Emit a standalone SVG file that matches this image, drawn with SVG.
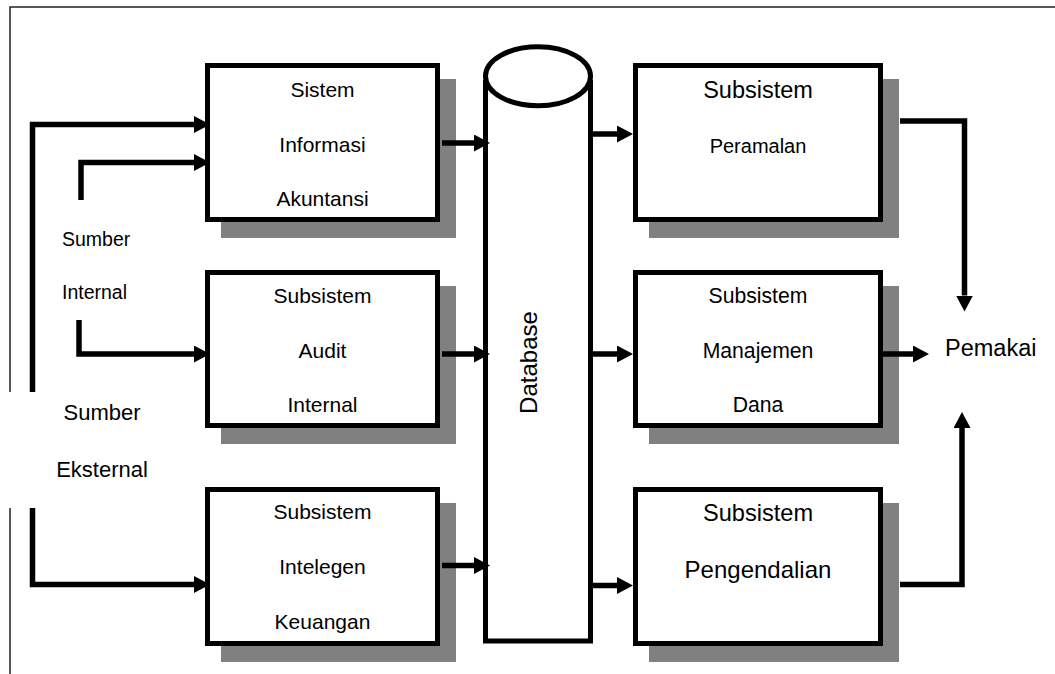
<svg xmlns="http://www.w3.org/2000/svg" width="1055" height="674" viewBox="0 0 1055 674">
<style>
.frame{fill:none;stroke:#222;stroke-width:1.5}
.shadow{fill:#808080;stroke:none}
.box{fill:#fff;stroke:#000;stroke-width:5}
.conn{fill:none;stroke:#000;stroke-width:5.5;stroke-linejoin:miter;stroke-linecap:butt}
text{font-family:"Liberation Sans",Arial,sans-serif;fill:#000}
.c{text-anchor:middle}
</style>
<defs>
<marker id="ah" viewBox="0 0 16 17" refX="0" refY="8.5" markerWidth="16" markerHeight="17" markerUnits="userSpaceOnUse" orient="auto">
<path d="M0,0 L16,8.5 L0,17 Z" fill="#000"/>
</marker>
</defs>
<rect width="1055" height="674" fill="#fff"/>
<g id="frame">
<path class="frame" d="M10,674 V508 M10,392 V7 H1055"/>
</g>
<g id="sia">
<rect class="shadow" x="221" y="79" width="235" height="159"/>
<rect class="box" x="207.5" y="65.5" width="230" height="154"/>
<text class="c" x="322.5" y="97" font-size="21">Sistem</text>
<text class="c" x="322.5" y="152" font-size="21">Informasi</text>
<text class="c" x="322.5" y="206" font-size="21">Akuntansi</text>
</g>
<g id="audit">
<rect class="shadow" x="221" y="286" width="235" height="158"/>
<rect class="box" x="207.5" y="272.5" width="230" height="153"/>
<text class="c" x="322.5" y="303" font-size="21">Subsistem</text>
<text class="c" x="322.5" y="358" font-size="21">Audit</text>
<text class="c" x="322.5" y="412" font-size="21">Internal</text>
</g>
<g id="intelegen">
<rect class="shadow" x="221" y="503" width="235" height="159"/>
<rect class="box" x="207.5" y="489.5" width="230" height="154"/>
<text class="c" x="322.5" y="519" font-size="21">Subsistem</text>
<text class="c" x="322.5" y="574" font-size="21">Intelegen</text>
<text class="c" x="322.5" y="629" font-size="21">Keuangan</text>
</g>
<g id="peramalan">
<rect class="shadow" x="649" y="79" width="250" height="159"/>
<rect class="box" x="635.5" y="65.5" width="245" height="154"/>
<text class="c" x="758" y="98" font-size="23.5">Subsistem</text>
<text class="c" x="758" y="153" font-size="20">Peramalan</text>
</g>
<g id="manajemen">
<rect class="shadow" x="649" y="286" width="250" height="158"/>
<rect class="box" x="635.5" y="272.5" width="245" height="153"/>
<text class="c" x="758" y="303" font-size="21.2">Subsistem</text>
<text class="c" x="758" y="358" font-size="21.2">Manajemen</text>
<text class="c" x="758" y="412" font-size="21.2">Dana</text>
</g>
<g id="pengendalian">
<rect class="shadow" x="649" y="503" width="250" height="159"/>
<rect class="box" x="635.5" y="489.5" width="245" height="154"/>
<text class="c" x="758" y="521" font-size="23.6">Subsistem</text>
<text class="c" x="758" y="578" font-size="24">Pengendalian</text>
</g>
<g id="database">
<path d="M485.5,80 V641 H590.5 V80" fill="#fff" stroke="#000" stroke-width="5"/>
<ellipse cx="538" cy="76.3" rx="52.5" ry="29.5" fill="#fff" stroke="#000" stroke-width="5"/>
<text class="c" x="0" y="0" font-size="24" transform="translate(537,362.5) rotate(-90)">Database</text>
</g>
<g id="sumber-internal">
<text x="62" y="246" font-size="19.5">Sumber</text>
<text x="62" y="299" font-size="19.5">Internal</text>
</g>
<g id="sumber-eksternal">
<text class="c" x="102" y="420" font-size="22">Sumber</text>
<text class="c" x="102" y="477" font-size="22">Eksternal</text>
</g>
<g id="pemakai">
<text x="945" y="356" font-size="23.5">Pemakai</text>
</g>
<g id="connectors">
<path class="conn" d="M32.5,392 V124.5 H194" marker-end="url(#ah)"/>
<path class="conn" d="M81,200 V162.5 H194" marker-end="url(#ah)"/>
<path class="conn" d="M79,320 V354 H194" marker-end="url(#ah)"/>
<path class="conn" d="M32.5,508 V584.5 H194" marker-end="url(#ah)"/>
<path class="conn" d="M442,143 H474" marker-end="url(#ah)"/>
<path class="conn" d="M442,354 H474" marker-end="url(#ah)"/>
<path class="conn" d="M442,565.5 H474" marker-end="url(#ah)"/>
<path class="conn" d="M593,134 H617" marker-end="url(#ah)"/>
<path class="conn" d="M593,354 H617" marker-end="url(#ah)"/>
<path class="conn" d="M593,585.5 H617" marker-end="url(#ah)"/>
<path class="conn" d="M900,121 H964.5 V295.5" marker-end="url(#ah)"/>
<path class="conn" d="M883,354 H913" marker-end="url(#ah)"/>
<path class="conn" d="M900,584.5 H962 V428" marker-end="url(#ah)"/>
</g>
</svg>
